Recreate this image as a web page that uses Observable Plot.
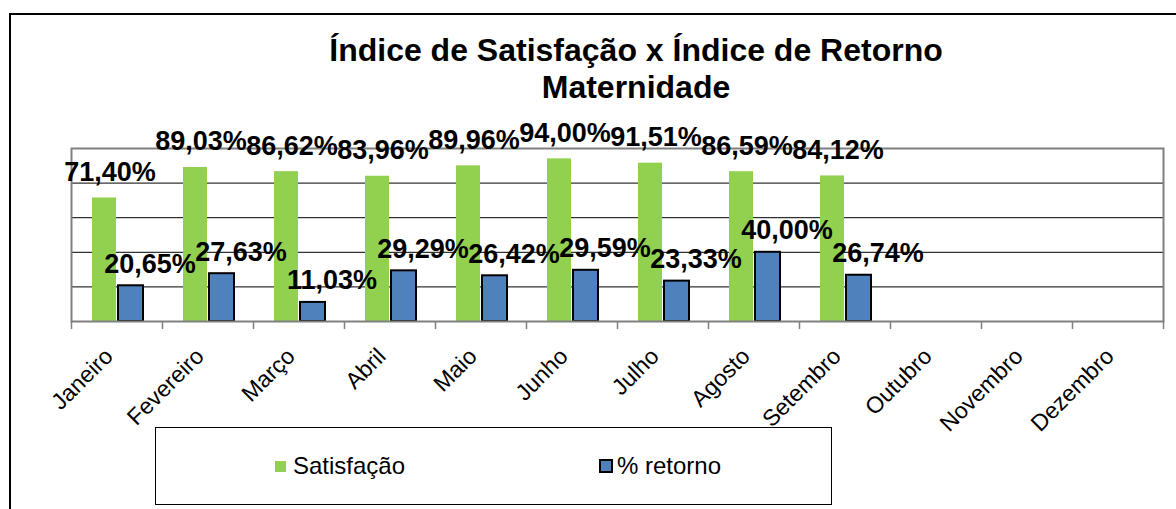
<!DOCTYPE html>
<html>
<head>
<meta charset="utf-8">
<script src="https://cdn.jsdelivr.net/npm/d3@7"></script>
<script src="https://cdn.jsdelivr.net/npm/@observablehq/plot@0.6"></script>
<style>
  html, body { margin: 0; padding: 0; background: #fff; }
  #wrap { position: relative; width: 1176px; height: 509px; overflow: hidden; background: #fff;
          font-family: "Liberation Sans", Arial, sans-serif; }
  #outer { position: absolute; left: 9px; top: 13px; width: 1300px; height: 700px; border: 2px solid #000; box-sizing: border-box; }
  #title { position: absolute; left: 0; top: 32px; width: 1272px; text-align: center; font-weight: bold;
           font-size: 32px; line-height: 37px; color: #000; }
  #chart { position: absolute; left: 0; top: 0; }
  #legend { position: absolute; left: 155px; top: 427px; width: 677px; height: 78px; box-sizing: border-box;
            border: 1px solid #000; background: #fff; }
  .item { position: absolute; top: 0; height: 76px; display: flex; align-items: center; font-size: 24px; color: #000; }
  .sw { display: inline-block; margin-right: 7px; box-sizing: border-box; }
</style>
</head>
<body>
<div id="wrap">
  <div id="outer"></div>
  <div id="chart"></div>
  <div id="title">Índice de Satisfação x Índice de Retorno<br>Maternidade</div>
  <div id="legend"></div>
</div>
<script>
const months = ["Janeiro", "Fevereiro", "Março", "Abril", "Maio", "Junho", "Julho", "Agosto", "Setembro", "Outubro", "Novembro", "Dezembro"];
const satisfacao = [71.40, 89.03, 86.62, 83.96, 89.96, 94.00, 91.51, 86.59, 84.12, null, null, null];
const retorno = [20.65, 27.63, 11.03, 29.29, 26.42, 29.59, 23.33, 40.00, 26.74, null, null, null];
const seriesNames = ["Satisfação", "% retorno"];
const seriesColors = ["#92D050", "#4F81BD"];
const gridValues = [20, 40, 60, 80];

const data = months.map((m, i) => ({month: m, satisfacao: satisfacao[i], retorno: retorno[i]}));
const filled = data.filter(d => d.satisfacao != null);
const fmt = v => v.toFixed(2).replace(".", ",") + "%";

const chart = Plot.plot({
  width: 1176,
  height: 509,
  marginLeft: 71,
  marginRight: 13,
  marginTop: 148,
  marginBottom: 188,
  x: {domain: months, padding: 0, axis: null, label: null},
  y: {domain: [0, 100], axis: null},
  style: {fontFamily: "'Liberation Sans', Arial, sans-serif", background: "transparent", color: "#000"},
  marks: [
    Plot.ruleY(gridValues, {stroke: "#000", strokeWidth: 1}),
    Plot.barY(filled, {x: "month", y: "satisfacao", fill: seriesColors[0], insetLeft: 21, insetRight: 46}),
    Plot.barY(filled, {x: "month", y: "retorno", fill: seriesColors[1], stroke: "#000", strokeWidth: 2, insetLeft: 47, insetRight: 19}),
    Plot.frame({stroke: "#808080", strokeWidth: 2}),
    Plot.ruleX(months, {x: d => d, dx: -45.5, stroke: "#808080", strokeWidth: 1.5, insetTop: 173, insetBottom: -8}),
    Plot.ruleX([months[months.length - 1]], {x: d => d, dx: 45.5, stroke: "#808080", strokeWidth: 1.5, insetTop: 173, insetBottom: -8}),
    Plot.axisX({tickSize: 0, tickRotate: -45, fontSize: 23, tickPadding: 31, dx: -8, fill: "#000", label: null}),
    Plot.text(filled, {x: "month", y: "satisfacao", text: d => fmt(d.satisfacao), dx: -7, dy: -17, lineAnchor: "bottom",
      fontSize: 27, fontWeight: "bold", fill: "#000"}),
    Plot.text(filled, {x: "month", y: "retorno", text: d => fmt(d.retorno), dx: 33, dy: -13, lineAnchor: "bottom",
      fontSize: 27, fontWeight: "bold", fill: "#000"})
  ]
});
document.getElementById("chart").appendChild(chart);

// Legend
const legend = document.getElementById("legend");
const itemPos = [119, 443];
seriesNames.forEach((name, i) => {
  const it = document.createElement("div");
  it.className = "item";
  it.style.left = itemPos[i] + "px";
  const sw = document.createElement("span");
  sw.className = "sw";
  sw.style.background = seriesColors[i];
  if (i === 1) { sw.style.width = "14px"; sw.style.height = "14px"; sw.style.border = "2px solid #000"; sw.style.marginRight = "4px"; }
  else { sw.style.width = "11px"; sw.style.height = "11px"; }
  it.appendChild(sw);
  it.appendChild(document.createTextNode(name));
  legend.appendChild(it);
});
</script>
</body>
</html>
